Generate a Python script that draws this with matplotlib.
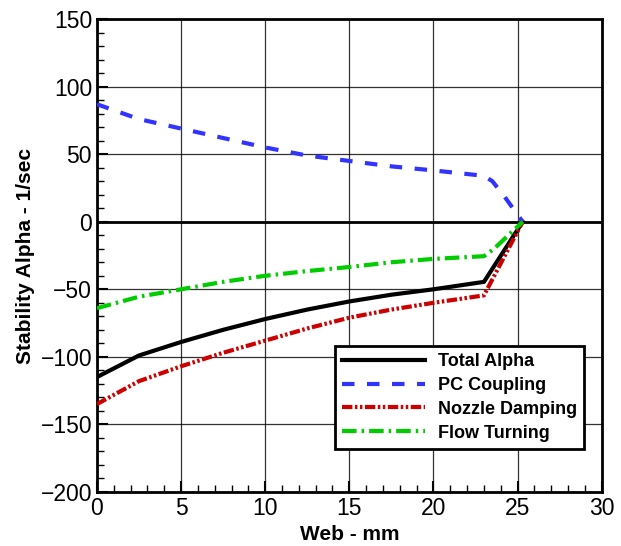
import matplotlib.pyplot as plt
from matplotlib.ticker import MultipleLocator

# web position (mm)
web = [0, 2.5, 5, 7.5, 10, 12.5, 15, 17.5, 20, 23, 25.3]
total_alpha = [-115, -99, -89, -80, -72, -65, -59, -54, -50, -44.5, 0]
nozzle_damping = [-135, -118, -107, -97, -88, -79, -71, -65, -60, -54.5, 0]

web_flow = [0, 2.5, 5, 7.5, 10, 12.5, 15, 17.5, 20, 23, 23.6, 25.3]
flow_turning = [-64, -55.5, -50, -44.5, -40, -36.5, -33.5, -30, -27.5, -25.5, -20, 0]

web_pc = [0, 2.5, 5, 7.5, 10, 12.5, 15, 17.5, 20, 23, 23.5, 24.2, 25.3]
pc_coupling = [87, 76, 69, 62, 55, 49, 45, 41, 38, 34, 30, 19, 0]

plt.rcParams['font.family'] = 'Liberation Sans'

fig = plt.figure(figsize=(6.21, 5.46), dpi=100)
ax = fig.add_axes([0.156, 0.099, 0.813, 0.866])

ax.axhline(0, color='black', lw=2, zorder=1)
ax.plot(web, total_alpha, color='black', lw=3, label='Total Alpha', zorder=3)
ax.plot(web_pc, pc_coupling, color='#3333ff', lw=3, ls=(0, (3, 3)),
        label='PC Coupling', zorder=3)
ax.plot(web, nozzle_damping, color='#cc0000', lw=3,
        ls=(0, (2.5, 0.6, 0.6, 0.6, 0.6, 0.6)), label='Nozzle Damping', zorder=3)
ax.plot(web_flow, flow_turning, color='#00cc00', lw=3,
        ls=(0, (3.5, 1.2, 0.6, 1.2)), label='Flow Turning', zorder=3)

ax.set_xlim(0, 30)
ax.set_ylim(-200, 150)
ax.xaxis.set_major_locator(MultipleLocator(5))
ax.xaxis.set_minor_locator(MultipleLocator(1))
ax.yaxis.set_major_locator(MultipleLocator(50))
ax.yaxis.set_minor_locator(MultipleLocator(10))
ax.grid(True, which='major', color='black', lw=0.9, alpha=0.8)
ax.tick_params(which='major', direction='in', length=8, width=1.5, labelsize=16.5)
ax.tick_params(which='minor', direction='in', length=5, width=1)
for s in ax.spines.values():
    s.set_linewidth(2)

ax.set_xlabel('Web - mm', fontsize=15, fontweight='bold', labelpad=4)
ax.set_ylabel('Stability Alpha - 1/sec', fontsize=15, fontweight='bold', labelpad=4)

leg = ax.legend(loc='upper left', bbox_to_anchor=(0.471, 0.309), borderaxespad=0,
                fancybox=False, framealpha=1, edgecolor='black',
                prop={'weight': 'bold', 'size': 13}, handlelength=4.6,
                handletextpad=0.7, labelspacing=0.38, borderpad=0.4)
leg.get_frame().set_linewidth(2)

fig.savefig('out.png', dpi=100)
